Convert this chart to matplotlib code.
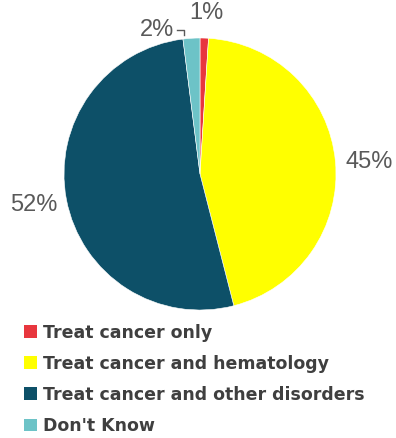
import matplotlib
matplotlib.use("Agg")
import matplotlib.pyplot as plt

# data
categories = ["Treat cancer only", "Treat cancer and hematology",
              "Treat cancer and other disorders", "Don't Know"]
values = [1, 45, 52, 2]
colors = ["#E8363E", "#FFFF00", "#0D5068", "#6DC3C7"]

# label spots (pixel coords of the reference), same order as values
label_px = [(206, 13), (369, 162), (34, 205), (157, 30)]
CX, CY, R = 200, 174, 136
W, H = 396, 438

def to_data(px, py):
    return (px - CX) / R, (CY - py) / R

fig = plt.figure(figsize=(W / 100, H / 100), dpi=100)
ax = fig.add_axes([0, 0, 1, 1])

wedges, _ = ax.pie(values, colors=colors, startangle=90, counterclock=False,
                   radius=1, wedgeprops=dict(edgecolor="white", linewidth=0.4))
ax.set_xlim(-CX / R, (W - CX) / R)
ax.set_ylim((CY - H) / R, CY / R)
ax.axis("off")

for v, (px, py) in zip(values, label_px):
    x, y = to_data(px, py)
    ax.text(x, y, f"{v}%", ha="center", va="center", fontsize=17,
            color="#595959", family="Liberation Sans")

# small leader for the 2% label
hook = [to_data(177, 30), to_data(184, 30), to_data(184, 35)]
ax.plot([p[0] for p in hook], [p[1] for p in hook], color="#595959", lw=1)

leg = fig.legend(wedges, categories, loc="upper left",
                 bbox_to_anchor=(24 / W, 1 - 323.5 / H), frameon=False,
                 prop=dict(family="DejaVu Sans", weight="bold", size=12.5),
                 labelcolor="#3F3F3F", handlelength=0.76, handleheight=0.76,
                 handletextpad=0.35, labelspacing=0.76, borderpad=0,
                 borderaxespad=0)
for h in leg.legend_handles:
    h.set_edgecolor("none")

fig.savefig("out.png", dpi=100)
